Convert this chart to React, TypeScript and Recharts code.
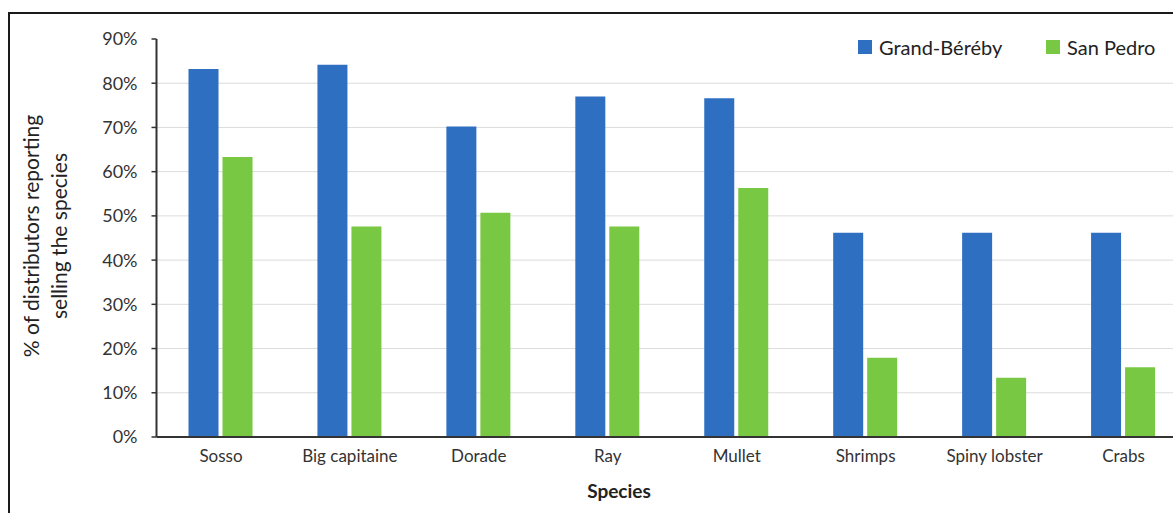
import { Bar, BarChart, CartesianGrid, Label, XAxis, YAxis } from 'recharts';

// share of distributors selling each species, by landing site (%)
const species = ['Sosso', 'Big capitaine', 'Dorade', 'Ray', 'Mullet', 'Shrimps', 'Spiny lobster', 'Crabs'];
const grandBereby = [83.2, 84.2, 70.2, 77.0, 76.6, 46.2, 46.2, 46.2];
const sanPedro = [63.3, 47.6, 50.7, 47.6, 56.3, 17.9, 13.4, 15.8];

const percentTicks = [0, 10, 20, 30, 40, 50, 60, 70, 80, 90];
const gridValues = [10, 20, 30, 40, 50, 60, 70, 80];

const seriesNames = ['Grand-Béréby', 'San Pedro'];
const seriesColors = ['#2e6fc2', '#79c843'];

const FONT = 'Lato, "Open Sans", sans-serif';

const chartData = species.map((name, i) => ({ name, gb: grandBereby[i], sp: sanPedro[i] }));

function YTitle() {
  // rotated two-line axis title
  return (
    <text transform="rotate(-90)" textAnchor="middle" fontFamily={FONT} fontSize={21} fill="#222">
      <tspan x={-236} y={39}>% of distributors reporting</tspan>
      <tspan x={-236} y={67}>selling the species</tspan>
    </text>
  );
}

function XTitle() {
  return (
    <text x={619} y={498} textAnchor="middle" fontFamily={FONT} fontSize={19} fontWeight={700} fill="#222">
      Species
    </text>
  );
}

const legendLeft = [858, 1046];

export default function App() {
  return (
    <div style={{ position: 'absolute', left: 0, top: 0, width: 1173, height: 513, overflow: 'hidden', background: '#fff' }}>
      <div style={{ position: 'absolute', left: 8, top: 12, width: 1220, height: 540, border: '2px solid #1a1a1a' }} />
      <div style={{ position: 'absolute', left: 0, top: 0 }}>
        <BarChart
          width={1208}
          height={513}
          data={chartData}
          margin={{ top: 39, right: 20, bottom: 0, left: 0 }}
          barSize={30}
          barGap={4}
          style={{ fontFamily: FONT }}
        >
          <CartesianGrid vertical={false} horizontalValues={gridValues} stroke="#dcdcdc" />
          <XAxis
            dataKey="name"
            height={76}
            tickLine={false}
            tickSize={6}
            tickMargin={7}
            axisLine={{ stroke: '#333', strokeWidth: 2 }}
            tick={{ fill: '#333', fontSize: 17, fontFamily: FONT }}
            interval={0}
          >
            <Label content={XTitle} />
          </XAxis>
          <YAxis
            width={156.5}
            domain={[0, 90]}
            ticks={percentTicks}
            tickFormatter={(v) => `${v}%`}
            tickSize={5}
            tickMargin={14}
            tickLine={{ stroke: '#333', strokeWidth: 1.5 }}
            axisLine={{ stroke: '#333', strokeWidth: 2 }}
            tick={{ fill: '#333', fontSize: 18, fontFamily: FONT }}
            interval={0}
          >
            <Label content={YTitle} />
          </YAxis>
          <Bar dataKey="gb" name={seriesNames[0]} fill={seriesColors[0]} isAnimationActive={false} />
          <Bar dataKey="sp" name={seriesNames[1]} fill={seriesColors[1]} isAnimationActive={false} />
        </BarChart>
      </div>
      {seriesNames.map((n, i) => (
        <div
          key={n}
          style={{
            position: 'absolute',
            left: legendLeft[i],
            top: 35,
            height: 24,
            display: 'flex',
            alignItems: 'center',
            fontFamily: FONT,
            fontSize: 20,
            color: '#222',
            whiteSpace: 'nowrap',
          }}
        >
          <span style={{ display: 'inline-block', width: 14, height: 14, background: seriesColors[i], marginRight: 7 }} />
          {n}
        </div>
      ))}
    </div>
  );
}
